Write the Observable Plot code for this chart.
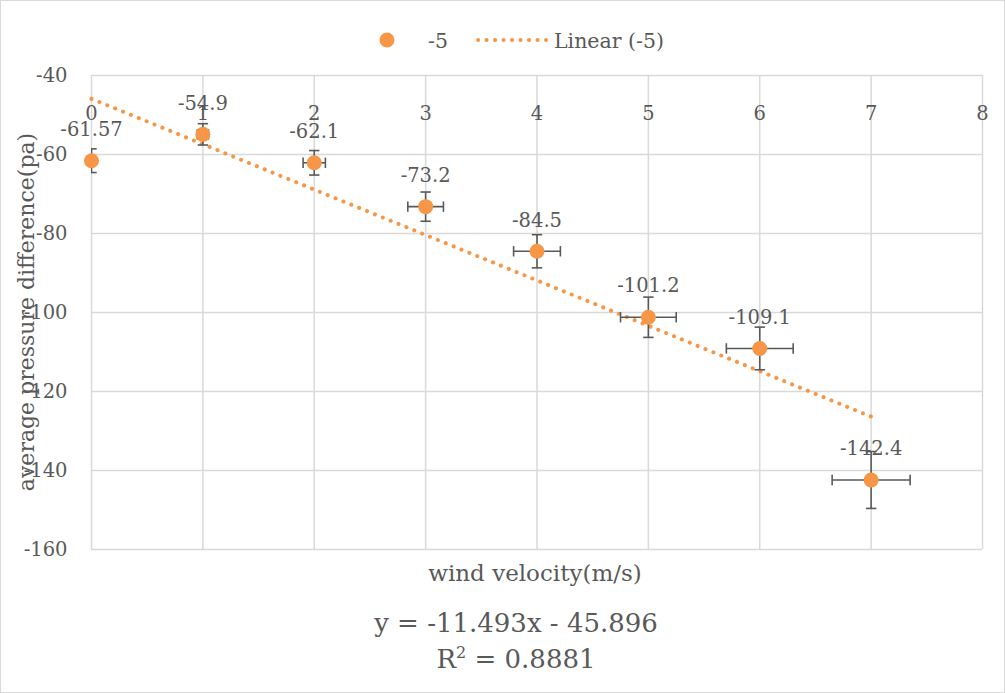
<!DOCTYPE html>
<html><head><meta charset="utf-8">
<script src="https://cdn.jsdelivr.net/npm/d3@7"></script>
<script src="https://cdn.jsdelivr.net/npm/@observablehq/plot@0.6"></script>
<style>
html,body{margin:0;padding:0;background:#fff;}
#chart{position:relative;width:1005px;height:693px;overflow:hidden;font-family:"DejaVu Serif";}
#chart svg{position:absolute;left:0;top:0;}
#border{position:absolute;left:0;top:0;width:1005px;height:693px;box-sizing:border-box;border:1px solid #d9d9d9;pointer-events:none;}
</style></head><body><div id="chart"><div id="border"></div></div>
<script>
// ---- data ----
const velocity = [0, 1, 2, 3, 4, 5, 6, 7];
const pressure = [-61.57, -54.9, -62.1, -73.2, -84.5, -101.2, -109.1, -142.4];
const pressureErr = [3.0, 2.7, 3.1, 3.7, 4.2, 5.1, 5.4, 7.2];
const velocityErr = [0, 0.05, 0.1, 0.16, 0.21, 0.25, 0.3, 0.35];
const xTicks = [0, 1, 2, 3, 4, 5, 6, 7, 8];
const yTicks = [-160, -140, -120, -100, -80, -60, -40];
const seriesName = "-5";
const trendName = "Linear (-5)";
const xTitle = "wind velocity(m/s)";
const yTitle = "average pressure difference(pa)";
const equation = "y = -11.493x - 45.896";
const rSquared = "0.8881";

// ---- build table ----
const data = velocity.map((v, i) => ({x: v, y: pressure[i], ey: pressureErr[i], ex: velocityErr[i]}));

const orange = "#F79646";
const grey = "#595959";
const gridC = "#d9d9d9";

const capH = {draw(ctx, size) { const r = Math.sqrt(size / Math.PI); ctx.moveTo(-r, 0); ctx.lineTo(r, 0); }};
const capV = {draw(ctx, size) { const r = Math.sqrt(size / Math.PI); ctx.moveTo(0, -r); ctx.lineTo(0, r); }};

const W = 1005, H = 693;
const chart = Plot.plot({
  width: W, height: H,
  marginLeft: 91, marginRight: 23, marginTop: 75, marginBottom: 144,
  style: {fontFamily: "DejaVu Serif", fontSize: "19.5px", color: grey, background: "transparent", overflow: "visible"},
  x: {domain: [0, 8], axis: null},
  y: {domain: [-160, -40], axis: null},
  marks: [
    Plot.gridX(xTicks, {stroke: gridC, strokeOpacity: 1, strokeWidth: 1.5}),
    Plot.gridY(yTicks, {stroke: gridC, strokeOpacity: 1, strokeWidth: 1.5}),
    Plot.axisY(yTicks, {tickSize: 0, tickPadding: 24, tickFormat: d => String(d), fontSize: 19.5, fill: grey, label: null}),
    Plot.text(xTicks, {x: d => d, frameAnchor: "top", dy: 31, text: d => String(d), fontSize: 19.5, fill: grey}),
    Plot.linearRegressionY(data, {x: "x", y: "y", ci: 0, stroke: orange, strokeWidth: 4, strokeDasharray: "0.1,8.4", strokeLinecap: "round"}),
    // error bars
    Plot.link(data, {x1: "x", x2: "x", y1: d => d.y - d.ey, y2: d => d.y + d.ey, stroke: grey, strokeWidth: 1.6, clip: "frame"}),
    Plot.link(data.filter(d => d.ex > 0), {x1: d => d.x - d.ex, x2: d => d.x + d.ex, y1: "y", y2: "y", stroke: grey, strokeWidth: 1.6, clip: "frame"}),
    Plot.dot(data, {x: "x", y: d => d.y + d.ey, symbol: capH, r: 5.2, stroke: grey, strokeWidth: 1.6, clip: "frame"}),
    Plot.dot(data, {x: "x", y: d => d.y - d.ey, symbol: capH, r: 5.2, stroke: grey, strokeWidth: 1.6, clip: "frame"}),
    Plot.dot(data.filter(d => d.ex > 0), {x: d => d.x - d.ex, y: "y", symbol: capV, r: 5.2, stroke: grey, strokeWidth: 1.6}),
    Plot.dot(data.filter(d => d.ex > 0), {x: d => d.x + d.ex, y: "y", symbol: capV, r: 5.2, stroke: grey, strokeWidth: 1.6}),
    Plot.dot(data, {x: "x", y: "y", r: 7.5, fill: orange, stroke: null}),
    Plot.text(data, {x: "x", y: "y", text: d => String(d.y), dy: -31, fontSize: 19.5, fill: grey})
  ]
});
document.getElementById("chart").appendChild(chart);

// ---- legend and titles overlay ----
const ns = "http://www.w3.org/2000/svg";
const ov = d3.select("#chart").append("svg").attr("width", W).attr("height", H)
  .style("font-family", "DejaVu Serif").style("pointer-events", "none");
const lg = ov.append("g");
lg.append("circle").attr("cx", 387).attr("cy", 40).attr("r", 7.5).attr("fill", orange);
lg.append("text").attr("x", 428).attr("y", 48).attr("font-size", 20.5).attr("fill", grey).text(seriesName);
lg.append("line").attr("x1", 478).attr("x2", 546).attr("y1", 40).attr("y2", 40)
  .attr("stroke", orange).attr("stroke-width", 4).attr("stroke-dasharray", "0.1,8.4").attr("stroke-linecap", "round");
lg.append("text").attr("x", 554).attr("y", 48).attr("font-size", 20.5).attr("fill", grey).text(trendName);

ov.append("text").attr("x", 535).attr("y", 581).attr("text-anchor", "middle").attr("font-size", 23).attr("fill", grey).text(xTitle);
ov.append("text").attr("transform", "translate(34,312) rotate(-90)").attr("text-anchor", "middle").attr("font-size", 22).attr("fill", grey).text(yTitle);
ov.append("text").attr("x", 516).attr("y", 632).attr("text-anchor", "middle").attr("font-size", 26).attr("fill", grey).text(equation);
const r2 = ov.append("text").attr("x", 516).attr("y", 668).attr("text-anchor", "middle").attr("font-size", 26).attr("fill", grey);
r2.append("tspan").text("R");
r2.append("tspan").attr("dy", -10).attr("font-size", 16).text("2");
r2.append("tspan").attr("dy", 10).text(" = " + rSquared);
</script></body></html>
